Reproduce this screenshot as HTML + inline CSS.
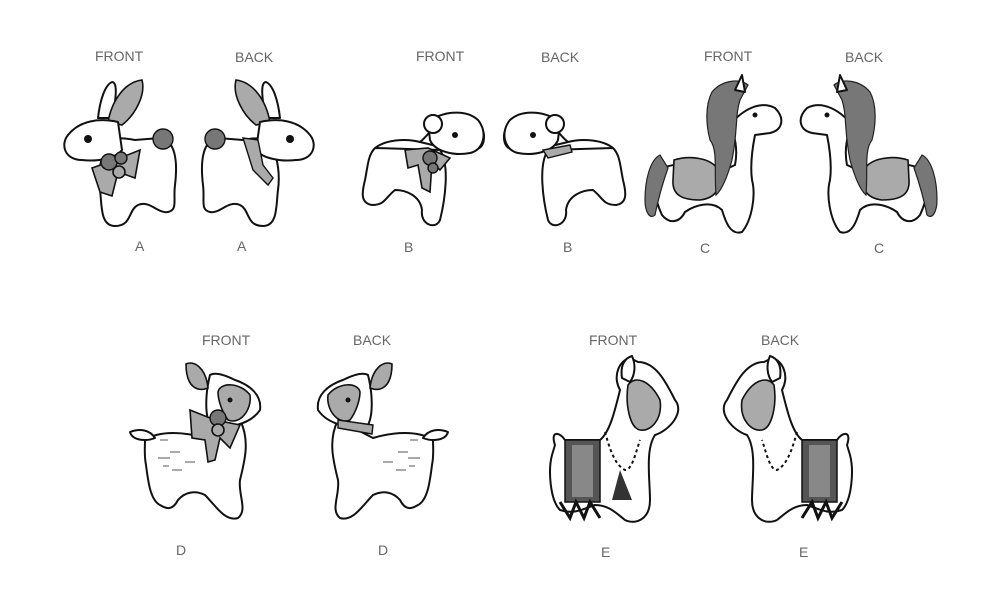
<!DOCTYPE html>
<html><head><meta charset="utf-8"><style>
html,body{margin:0;padding:0;background:#fff;}
svg{display:block}
text{font-family:"Liberation Sans Narrow","Liberation Sans",sans-serif;font-size:14px;fill:#666;}
.o{fill:#fff;stroke:#111;stroke-width:2;stroke-linejoin:round}
.g{fill:#aaa;stroke:#111;stroke-width:1.6}
.d{fill:#777;stroke:#111;stroke-width:1.4}
.t{fill:none;stroke:#555;stroke-width:1}
.s{fill:#aaa;stroke:#111;stroke-width:1.4}
</style></head><body>
<svg width="1000" height="607" viewBox="0 0 1000 607">
<defs>
<g id="bunny">
<path class="o" d="M105,150 C110,135 125,138 135,140 L160,138 C175,140 178,160 175,185 C173,200 178,210 168,212 C158,214 150,200 138,205 C128,210 132,226 115,226 C100,226 102,205 100,190 C98,175 100,160 105,150 Z"/>
<path class="o" d="M98,118 C100,100 105,85 112,82 C118,82 116,100 112,118 Z"/>
<path class="g" d="M108,122 C112,100 125,82 142,80 C146,95 135,115 122,125 Z"/>
<path class="o" d="M118,122 C100,118 80,120 68,135 C60,145 65,160 82,160 C98,162 116,158 122,150 Z"/>
<circle cx="88" cy="139" r="4" fill="#111"/>
<circle class="d" cx="163" cy="139" r="10"/>
</g>
<g id="bunnybow">
<path class="g" d="M92,168 L120,158 L140,150 L135,178 L118,172 L112,196 L100,192 Z"/>
<circle class="d" cx="109" cy="162" r="8"/><circle class="d" cx="121" cy="158" r="6"/><circle class="g" cx="119" cy="172" r="6"/>
</g>
<g id="lamb">
<path class="o" d="M375,148 C385,140 405,138 420,142 L445,148 C470,150 485,155 484,135 C482,118 460,110 440,118 C432,130 425,138 420,142 M440,150 C450,165 445,200 440,220 C436,230 420,225 422,210 C420,195 405,190 395,190 C385,198 385,205 372,205 C360,203 362,192 365,180 C368,165 368,155 375,148 Z"/>
<path class="o" d="M428,122 C440,112 465,108 478,120 C488,132 484,150 470,153 C455,156 435,152 430,140 Z"/>
<circle class="o" cx="433" cy="124" r="9"/><circle cx="455" cy="135" r="3" fill="#111"/>
</g>
<g id="lambbow">
<path class="g" d="M405,150 L428,148 L450,158 L440,170 L432,162 L430,192 L422,188 L418,165 L408,168 Z"/>
<circle class="d" cx="430" cy="158" r="7"/><circle class="d" cx="433" cy="168" r="5"/>
</g>
<g id="horse">
<path class="o" d="M660,170 C675,160 700,165 720,172 L735,165 C738,150 735,135 730,125 C742,110 760,100 775,108 C785,118 783,130 770,133 L755,135 C752,150 750,165 752,180 C756,195 752,220 742,232 C730,236 725,220 722,210 C712,200 695,205 685,212 C680,222 670,225 662,215 C655,200 652,185 660,170 Z"/>
<path class="g" d="M674,160 C690,155 712,158 718,170 C722,190 715,198 700,200 C682,200 672,195 673,180 Z"/>
<path fill="#777" stroke="#222" stroke-width="1.2" d="M712,92 C722,80 740,78 748,85 L740,100 C735,115 738,130 732,160 C728,175 722,190 716,195 C714,170 718,150 710,140 C706,125 705,105 712,92 Z"/>
<path fill="#777" stroke="#222" stroke-width="1.2" d="M660,155 C650,160 645,180 645,200 C645,212 650,220 655,215 C658,200 662,185 668,168 Z"/>
<circle cx="755" cy="115" r="2.5" fill="#111"/>
<path class="o" d="M735,90 L742,75 L745,92 Z"/>
</g>
<g id="deer">
<path class="o" d="M145,440 C160,430 185,432 205,438 L240,420 C250,440 245,460 240,480 C238,495 248,510 238,518 C225,522 215,505 205,495 C195,490 185,492 178,500 C172,512 165,508 160,505 C150,500 148,480 146,465 C144,455 145,448 145,440 Z"/>
<path class="o" d="M130,432 C140,428 150,430 155,438 C145,442 132,440 130,432 Z"/>
<path class="o" d="M210,375 C205,395 205,415 210,425 C225,430 250,425 260,410 C262,395 250,385 235,380 C225,375 215,372 210,375 Z"/>
<path class="g" d="M218,392 C220,382 240,382 250,395 C252,410 240,425 228,420 C222,412 218,400 218,392 Z"/>
<path class="g" d="M186,364 C194,360 206,368 208,388 C198,392 186,388 186,364 Z"/>
<circle cx="230" cy="400" r="2.5" fill="#111"/>
<path class="t" d="M160,440 h8 M170,452 h10 M158,458 h12 M185,462 h10 M172,470 h10 M163,466 h6"/>
</g>
<g id="deerbow">
<path class="g" d="M190,410 L215,420 L240,425 L230,448 L220,438 L215,460 L208,462 L205,440 L192,438 Z"/>
<circle class="d" cx="218" cy="418" r="8"/><circle class="g" cx="218" cy="430" r="6"/>
</g>
<g id="llama">
<path class="o" d="M555,445 C550,430 560,432 565,440 L600,440 C610,432 615,410 620,390 C612,375 620,360 630,358 L638,362 C655,362 665,380 675,400 C685,412 670,430 655,435 C645,450 650,480 650,500 C650,520 635,525 625,520 C615,512 608,505 595,505 C585,508 575,515 560,510 C550,500 548,470 552,455 Z"/>
<path class="g" d="M628,385 C635,375 650,380 660,400 C663,420 650,432 640,430 C630,428 625,405 628,385 Z"/>
<path class="o" d="M622,378 C620,365 625,358 632,356 C636,365 635,375 630,382 Z"/>
<rect x="565" y="440" width="35" height="62" fill="#555" stroke="#111" stroke-width="1.5"/>
<rect x="572" y="445" width="21" height="52" fill="#888"/>
<path d="M560,502 L570,518 L576,502 L584,518 L590,502 L600,518" stroke="#111" stroke-width="3" fill="none"/>
<path d="M605,432 C610,450 615,465 625,470 C632,470 635,455 640,440" fill="none" stroke="#111" stroke-width="2" stroke-dasharray="3 3"/>
</g>
</defs>
<text x="95" y="61">FRONT</text><text x="235" y="62">BACK</text>
<text x="416" y="61">FRONT</text><text x="541" y="62">BACK</text>
<text x="704" y="61">FRONT</text><text x="845" y="62">BACK</text>
<text x="135" y="251">A</text><text x="237" y="251">A</text>
<text x="404" y="252">B</text><text x="563" y="252">B</text>
<text x="700" y="253">C</text><text x="874" y="253">C</text>
<text x="202" y="345">FRONT</text><text x="353" y="345">BACK</text>
<text x="589" y="345">FRONT</text><text x="761" y="345">BACK</text>
<text x="176" y="555">D</text><text x="378" y="555">D</text>
<text x="601" y="557">E</text><text x="799" y="557">E</text>
<use href="#bunny"/><use href="#bunnybow"/>
<g transform="translate(378,0) scale(-1,1)"><use href="#bunny"/><path class="s" d="M120,140 L135,138 L125,170 L110,185 L105,178 L115,165 Z"/></g>
<use href="#lamb"/><use href="#lambbow"/>
<g transform="translate(988,0) scale(-1,1)"><use href="#lamb"/><path class="s" d="M418,145 L445,150 L440,158 L416,152 Z"/></g>
<use href="#horse"/>
<use href="#horse" transform="translate(1582,0) scale(-1,1)"/>
<use href="#deer"/><use href="#deerbow"/>
<g transform="translate(578,0) scale(-1,1)"><use href="#deer"/><path class="s" d="M205,425 L240,420 L240,428 L206,434 Z"/></g>
<use href="#llama"/><path d="M620,470 L612,500 L632,500 Z" fill="#333"/>
<use href="#llama" transform="translate(1402,0) scale(-1,1)"/>
</svg>
</body></html>
